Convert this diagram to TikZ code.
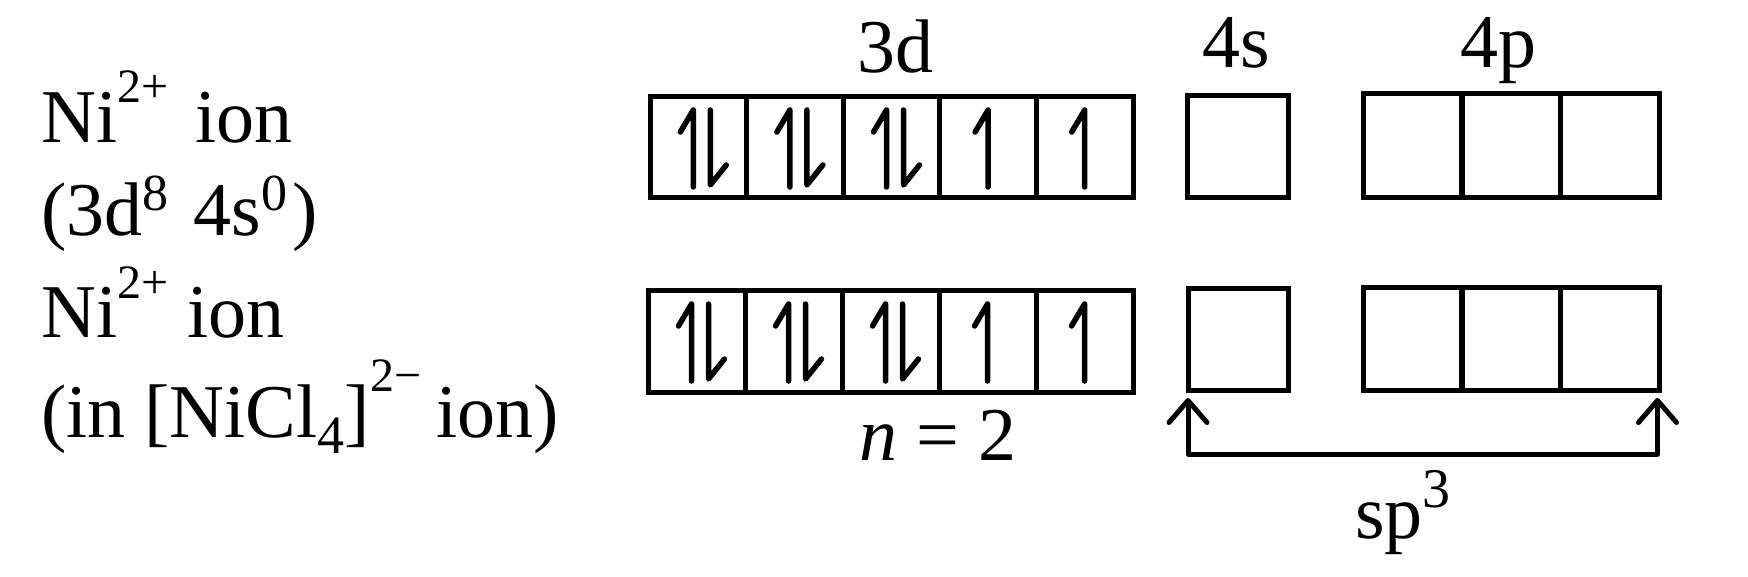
\documentclass[tikz,border=0pt]{standalone}
\usepackage{fontspec}
\setmainfont{Liberation Serif}
\usetikzlibrary{arrows.meta,calc}
% \supr{raise}{size}{text}
\newcommand{\supr}[3]{\raisebox{#1pt}{\fontsize{#2}{#2}\selectfont #3}}
\tikzset{
  orb/.style={draw, line width=5pt, minimum width=97pt, minimum height=101pt, inner sep=0pt, outer sep=0pt},
  spin/.style={line width=5.5pt, line cap=round, line join=round},
  lbl/.style={inner sep=0pt, font=\fontsize{76}{80}\selectfont},
  hyb/.style={line width=5pt, line join=round, {Straight Barb[length=22pt,width=38pt,round]}-{Straight Barb[length=22pt,width=38pt,round]}}
}
\newcommand{\pairspin}[1]{%
  \draw[spin, shift={(#1.center)}] (-5,40) -- (-5,-37) -- (-18,-15);
  \draw[spin, shift={(#1.center)}] (12,-37) -- (12,38) -- (28,18);}
\newcommand{\onespin}[1]{%
  \draw[spin, shift={(#1.center)}] (0,40) -- (0,-37) -- (-13,-15);}
\begin{document}
\begin{tikzpicture}[x=1pt, y=-1pt]
\useasboundingbox (0,0) rectangle (1748,576);
% left labels
\node[lbl, anchor=base west] (l1) at (41,142) {Ni\supr{40}{48}{2+}\hspace{8pt} ion};
\node[lbl, anchor=base west] (l2) at (41,235) {(3d\supr{25}{52}{8}\hspace{6pt} 4s\supr{25}{52}{0}\hspace{5pt})};
\node[lbl, anchor=base west] (l3) at (41,337) {Ni\supr{39}{48}{2+} ion};
\node[lbl, anchor=base west] (l4) at (41,437) {(in [NiCl\supr{-16}{54}{4}]\supr{46}{48}{2−}\hspace{-4pt} ion)};
% headings
\node[lbl, anchor=base] (h3d) at (895,72) {3d};
\node[lbl, anchor=base] (h4s) at (1236,67) {4s};
\node[lbl, anchor=base] (h4p) at (1498,67) {4p};
% row 1
\foreach \i/\x in {1/698.3,2/794.9,3/891.5,4/988.1,5/1084.7}
  \node[orb, minimum width=96.6pt] (a\i) at (\x,147) {};
\node[orb, minimum width=101pt, minimum height=102pt] (s1) at (1237.5,146) {};
\foreach \i/\x in {1/1412.5,2/1511,3/1610}
  \node[orb, minimum width=99pt, minimum height=104pt] (p1\i) at (\x,145) {};
% row 2
\foreach \i/\x in {1/696.5,2/793.5,3/890.5,4/987.5,5/1084.5}
  \node[orb, minimum width=97pt, minimum height=102pt] (b\i) at (\x,341) {};
\node[orb, minimum width=100pt, minimum height=102pt] (s2) at (1238,339) {};
\foreach \i/\x in {1/1412.5,2/1511,3/1610}
  \node[orb, minimum width=99pt, minimum height=103pt] (p2\i) at (\x,338.5) {};
% spins
\pairspin{a1}\pairspin{a2}\pairspin{a3}\onespin{a4}\onespin{a5}
\pairspin{b1}\pairspin{b2}\pairspin{b3}\onespin{b4}\onespin{b5}
% n = 2
\node[lbl, anchor=base] (nn) at (938,460) {\textit{n} = 2};
% hybridisation bracket
\coordinate (L) at ($(s2.south west)+(0,8)$);
\coordinate (R) at ($(p23.south east)+(-2,8)$);
\coordinate (base) at (0,454);
\draw[hyb] (L) -- (L|-base) -- (R|-base) -- (R);
\node[lbl, anchor=base west] (sp) at (1355,538) {sp\supr{31}{56}{3}};
\end{tikzpicture}
\end{document}
